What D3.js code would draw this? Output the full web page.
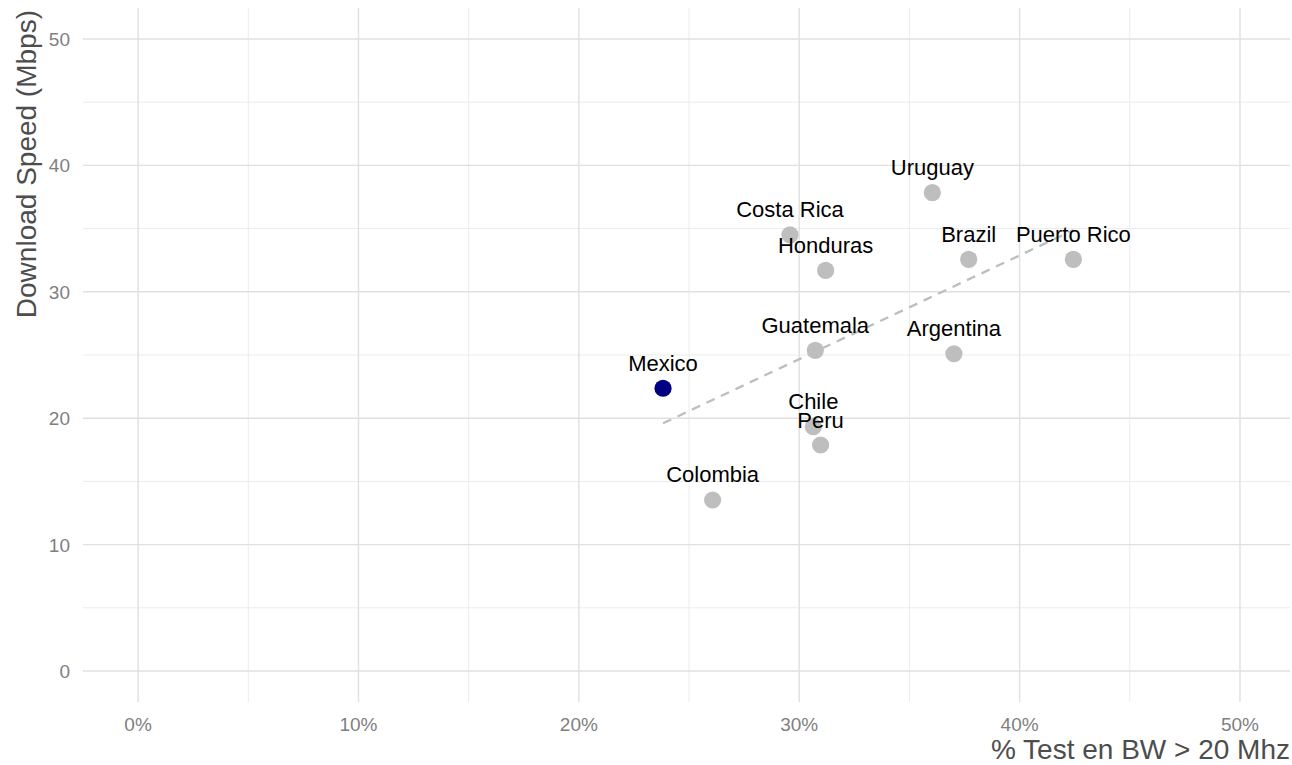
<!DOCTYPE html>
<html>
<head>
  <meta charset="utf-8">
  <title>Download speed vs % tests in BW > 20 Mhz</title>
  <script src="https://d3js.org/d3.v7.min.js"></script>
  <style>
    body, html {
      margin: 0;
      padding: 0;
      background: #fff;
      overflow: hidden;
    }
    svg {
      display: block;
      font-family: "Liberation Sans", Arial, sans-serif;
    }
  </style>
</head>
<body>
  <svg id="chart" width="1292" height="765"></svg>
  <script>
    // data
    var countries = ["Mexico", "Colombia", "Costa Rica", "Honduras", "Guatemala", "Chile",
                     "Peru", "Uruguay", "Brazil", "Puerto Rico", "Argentina"];
    var bwShare = [0.2382, 0.2607, 0.2958, 0.3120, 0.3073, 0.3064,
                   0.3097, 0.3604, 0.3769, 0.4244, 0.3702];
    var speed = [22.37, 13.53, 34.5, 31.7, 25.37, 19.33,
                 17.88, 37.84, 32.57, 32.57, 25.1];
    var highlight = "Mexico";

    // trend line ends
    var trendX = [0.2382, 0.4244];
    var trendY = [19.6, 34.88];

    var xTicks = [0, 0.1, 0.2, 0.3, 0.4, 0.5];
    var xMinor = [0.05, 0.15, 0.25, 0.35, 0.45];
    var yTicks = [0, 10, 20, 30, 40, 50];
    var yMinor = [5, 15, 25, 35, 45];

    var svg = d3.select("#chart");
    var panelLeft = 83, panelRight = 1290, panelTop = 8, panelBottom = 702;

    var xScale = d3.scaleLinear().domain([-0.025, 0.5227]).range([panelLeft, panelRight]);
    var yScale = d3.scaleLinear().domain([-2.45, 52.45]).range([panelBottom, panelTop]);

    // minor grid
    svg.append("g").selectAll("line").data(xMinor).join("line")
      .attr("x1", d => xScale(d)).attr("x2", d => xScale(d))
      .attr("y1", panelTop).attr("y2", panelBottom)
      .attr("stroke", "#ebebeb").attr("stroke-width", 1);
    svg.append("g").selectAll("line").data(yMinor).join("line")
      .attr("y1", d => yScale(d)).attr("y2", d => yScale(d))
      .attr("x1", panelLeft).attr("x2", panelRight)
      .attr("stroke", "#ebebeb").attr("stroke-width", 1);

    // major grid
    svg.append("g").selectAll("line").data(xTicks).join("line")
      .attr("x1", d => xScale(d)).attr("x2", d => xScale(d))
      .attr("y1", panelTop).attr("y2", panelBottom)
      .attr("stroke", "#e0e0e0").attr("stroke-width", 1.4);
    svg.append("g").selectAll("line").data(yTicks).join("line")
      .attr("y1", d => yScale(d)).attr("y2", d => yScale(d))
      .attr("x1", panelLeft).attr("x2", panelRight)
      .attr("stroke", "#e0e0e0").attr("stroke-width", 1.4);

    // tick labels
    svg.append("g").selectAll("text").data(xTicks).join("text")
      .attr("x", d => xScale(d))
      .attr("y", 731)
      .attr("text-anchor", "middle")
      .style("font-size", "19px")
      .attr("fill", "#7f7f7f")
      .text(d => d3.format(".0%")(d));

    svg.append("g").selectAll("text").data(yTicks).join("text")
      .attr("x", 70)
      .attr("y", d => yScale(d) + 7)
      .attr("text-anchor", "end")
      .style("font-size", "19px")
      .attr("fill", "#7f7f7f")
      .text(d => d);

    // trend line
    svg.append("line")
      .attr("x1", xScale(trendX[0])).attr("y1", yScale(trendY[0]))
      .attr("x2", xScale(trendX[1])).attr("y2", yScale(trendY[1]))
      .attr("stroke", "#bdbdbd")
      .attr("stroke-width", 2.3)
      .attr("stroke-dasharray", "9,7");

    var points = countries.map(function(c, i) {
      return { name: c, x: bwShare[i], y: speed[i] };
    });

    // points
    svg.append("g").selectAll("circle").data(points).join("circle")
      .attr("cx", d => xScale(d.x))
      .attr("cy", d => yScale(d.y))
      .attr("r", 8.6)
      .attr("fill", d => d.name === highlight ? "#000080" : "#bebebe");

    // labels
    svg.append("g").selectAll("text").data(points).join("text")
      .attr("x", d => xScale(d.x))
      .attr("y", d => yScale(d.y) - 17.5)
      .attr("text-anchor", "middle")
      .style("font-size", "22px")
      .attr("fill", "#000")
      .text(d => d.name);

    // axis titles
    svg.append("text")
      .attr("x", 1290)
      .attr("y", 759)
      .attr("text-anchor", "end")
      .style("font-size", "28px")
      .attr("fill", "#4d4d4d")
      .text("% Test en BW > 20 Mhz");

    svg.append("text")
      .attr("transform", "translate(36, 10) rotate(-90)")
      .attr("text-anchor", "end")
      .style("font-size", "28px")
      .attr("fill", "#4d4d4d")
      .text("Download Speed (Mbps)");
  </script>
</body>
</html>
